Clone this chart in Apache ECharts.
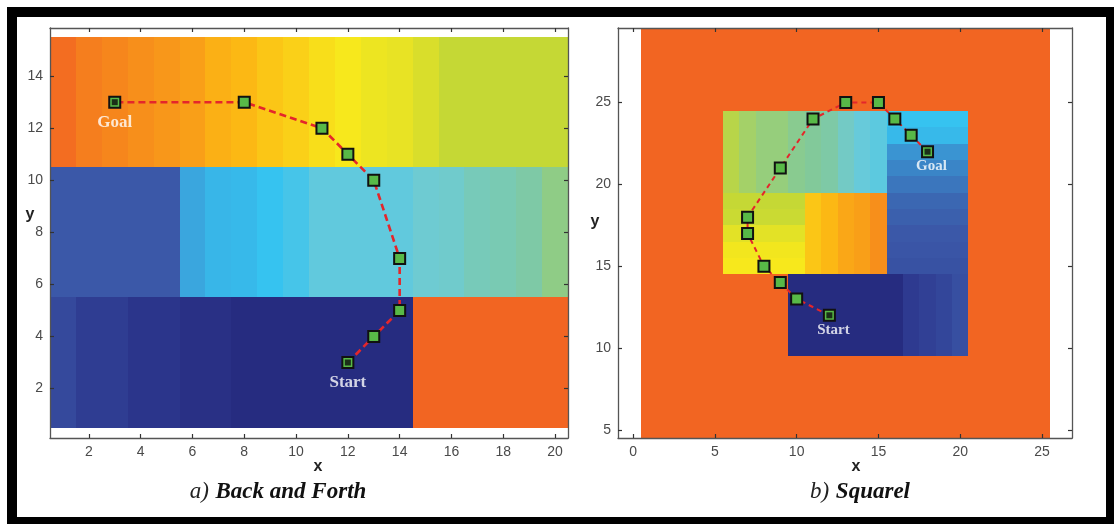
<!DOCTYPE html>
<html>
<head>
<meta charset="utf-8">
<script src="https://cdn.jsdelivr.net/npm/echarts@6/dist/echarts.min.js"></script>
<style>
html,body{margin:0;padding:0;background:#ffffff;}
#chart{width:1115px;height:524px;}
</style>
</head>
<body>
<div id="chart"></div>
<script>
// ---------- Panel a) Back and Forth : 20 columns x 15 rows ----------
const aBandTop = [99,97,96,95,94,93,91,90,87,85,82,80,78,77,74,70,70,70,70,70]; // rows 11-15, x = 1..20
const aBandMid = [20,20,20,20,20,31,36,37,40,43,48,48,48,48,51,52,55,56,58,62]; // rows 6-10
const aBandLow = [15,11,11,7,7,4,4,1,1,1,1,1,1,1,100,100,100,100,100,100];     // rows 1-5
const aPathX = [12,13,14,14,13,12,11,8,3];
const aPathY = [3,4,5,7,10,11,12,13,13];
const aEndNames = ['Goal','Start'];
const aEndX = [3,12];
const aEndY = [13,3];
const aXTicks = [2,4,6,8,10,12,14,16,18,20];
const aYTicks = [2,4,6,8,10,12,14];

// ---------- Panel b) Squarel : 25 columns (x 1..25) x 25 rows (y 5..29) ----------
const bObstacle = 100;
const bTopBlockCols = [68,65,63,63,61,60,58,53,49,47];   // x 6..15, rows 20..24
const bBlueColRows = [18,19,20,21,22,24,26,28,37,40];    // y 15..24, x 16..20
const bYellowRows = [80,79,76,71,70];                    // y 15..19, x 6..10
const bOrangeCols = [87,90,92,93,95];                    // x 11..15, y 15..19
const bNavyCols = [1,1,1,1,1,1,1,10,12,14,17];           // x 10..20, y 10..14
const bPathX = [12,10,9,8,7,7,9,11,13,15,16,17,18];
const bPathY = [12,13,14,15,17,18,21,24,25,25,24,23,22];
const bEndNames = ['Goal','Start'];
const bEndX = [18,12];
const bEndY = [22,12];
const bXTicks = [0,5,10,15,20,25];
const bYTicks = [5,10,15,20,25];

// ---------- build cell tables ----------
const aCells = [];
for (let y = 1; y <= 15; y++) {
  for (let x = 1; x <= 20; x++) {
    const band = y >= 11 ? aBandTop : (y >= 6 ? aBandMid : aBandLow);
    aCells.push([x, y, band[x - 1]]);
  }
}
const bCells = [];
for (let y = 5; y <= 29; y++) {
  for (let x = 1; x <= 25; x++) {
    let v = bObstacle;
    if (y >= 20 && y <= 24 && x >= 6 && x <= 15) v = bTopBlockCols[x - 6];
    else if (y >= 15 && y <= 24 && x >= 16 && x <= 20) v = bBlueColRows[y - 15];
    else if (y >= 15 && y <= 19 && x >= 6 && x <= 10) v = bYellowRows[y - 15];
    else if (y >= 15 && y <= 19 && x >= 11 && x <= 15) v = bOrangeCols[x - 11];
    else if (y >= 10 && y <= 14 && x >= 10 && x <= 20) v = bNavyCols[x - 10];
    bCells.push([x, y, v]);
  }
}
const zipXY = (xs, ys) => xs.map((x, i) => [x, ys[i]]);
const ends = (names, xs, ys) => names.map((n, i) => ({ name: n, value: [xs[i], ys[i]] }));

function renderCell(params, api) {
  const x = api.value(0), y = api.value(1);
  const p0 = api.coord([x - 0.5, y + 0.5]);
  const p1 = api.coord([x + 0.5, y - 0.5]);
  const x0 = Math.round(p0[0]), y0 = Math.round(p0[1]);
  const x1 = Math.round(p1[0]), y1 = Math.round(p1[1]);
  const c = api.visual('color');
  return {
    type: 'rect',
    shape: { x: x0, y: y0, width: x1 - x0, height: y1 - y0 },
    style: { fill: c, stroke: null, lineWidth: 0 }
  };
}

const tickFont = { color: '#4a4a4a', fontSize: 14, fontFamily: 'Liberation Sans' };
function mkAxis(gridIndex, position, min, max, ticks, showLabel) {
  return {
    type: 'value', gridIndex: gridIndex, position: position, min: min, max: max, z: 10,
    axisLine: { show: true, onZero: false, lineStyle: { color: '#555', width: 1.3 } },
    axisTick: { show: true, inside: true, length: 4, customValues: ticks, lineStyle: { color: '#333', width: 1.2 } },
    axisLabel: { show: showLabel, customValues: ticks, margin: 7, ...tickFont },
    splitLine: { show: false }
  };
}

const lineCommon = (gi) => ({
  type: 'line', xAxisIndex: gi * 2, yAxisIndex: gi * 2, z: 5,
  symbol: 'rect', symbolSize: 11, showSymbol: true,
  itemStyle: { color: '#58b947', borderColor: '#111', borderWidth: 2 },
  lineStyle: { color: '#e4262b', width: gi === 0 ? 2.6 : 2, type: gi === 0 ? [7, 4] : [5, 4] },
  emphasis: { disabled: true }, silent: true
});
const endCommon = (gi, fs, dist, offset) => ({
  type: 'scatter', xAxisIndex: gi * 2, yAxisIndex: gi * 2, z: 6,
  symbol: 'rect', symbolSize: 6, itemStyle: { color: '#0d0d0d' },
  label: { show: true, position: 'bottom', distance: dist, offset: offset, formatter: '{b}',
           color: '#ffffff', fontFamily: 'Liberation Serif', fontWeight: 'bold', fontSize: fs },
  silent: true
});

const chart = echarts.init(document.getElementById('chart'), null, { renderer: 'canvas' });
chart.setOption({
  animation: false,
  backgroundColor: '#ffffff',
  grid: [
    { left: 50, top: 28, width: 518, height: 410 },
    { left: 618, top: 28, width: 454, height: 410 }
  ],
  xAxis: [
    mkAxis(0, 'bottom', 0.5, 20.5, aXTicks, true),
    mkAxis(0, 'top', 0.5, 20.5, aXTicks, false),
    mkAxis(1, 'bottom', -0.92, 26.83, bXTicks, true),
    mkAxis(1, 'top', -0.92, 26.83, bXTicks, false)
  ],
  yAxis: [
    mkAxis(0, 'left', 0.1, 15.85, aYTicks, true),
    mkAxis(0, 'right', 0.1, 15.85, aYTicks, false),
    mkAxis(1, 'left', 4.5, 29.56, bYTicks, true),
    mkAxis(1, 'right', 4.5, 29.56, bYTicks, false)
  ],
  visualMap: {
    type: 'continuous', show: false, seriesIndex: [0, 3], dimension: 2, min: 0, max: 100,
    inRange: { color: ['#252a7e','#2e3a90','#3b58a8','#3aa3dc','#36c3f0','#6ccbd8','#82c99a','#c5d835','#f7e81c','#fcb814','#f26522'] }
  },
  series: [
    { type: 'custom', xAxisIndex: 0, yAxisIndex: 0, renderItem: renderCell, data: aCells, z: 1, silent: true },
    Object.assign(lineCommon(0), { data: zipXY(aPathX, aPathY) }),
    Object.assign(endCommon(0, 17, 9, [0, 0]), { data: ends(aEndNames, aEndX, aEndY) }),
    { type: 'custom', xAxisIndex: 2, yAxisIndex: 2, renderItem: renderCell, data: bCells, z: 1, silent: true },
    Object.assign(lineCommon(1), { data: zipXY(bPathX, bPathY) }),
    Object.assign(endCommon(1, 15, 6, [4, -2]), { data: ends(bEndNames, bEndX, bEndY) })
  ],
  graphic: [
    { type: 'rect', shape: { x: 7, y: 7, width: 1107, height: 10 }, style: { fill: '#000' } },
    { type: 'rect', shape: { x: 7, y: 7, width: 10, height: 517 }, style: { fill: '#000' } },
    { type: 'rect', shape: { x: 1106, y: 7, width: 8, height: 517 }, style: { fill: '#000' } },
    { type: 'rect', shape: { x: 7, y: 517, width: 1107, height: 7 }, style: { fill: '#000' } },
    { type: 'text', x: 318, y: 467, style: { text: 'x', fill: '#222', font: 'bold 16px "Liberation Sans"', align: 'center', verticalAlign: 'middle' } },
    { type: 'text', x: 30, y: 215, style: { text: 'y', fill: '#222', font: 'bold 16px "Liberation Sans"', align: 'center', verticalAlign: 'middle' } },
    { type: 'text', x: 856, y: 467, style: { text: 'x', fill: '#222', font: 'bold 16px "Liberation Sans"', align: 'center', verticalAlign: 'middle' } },
    { type: 'text', x: 595, y: 222, style: { text: 'y', fill: '#222', font: 'bold 16px "Liberation Sans"', align: 'center', verticalAlign: 'middle' } },
    { type: 'text', x: 278, y: 492, style: {
        text: '{p|a)}  {t|Back and Forth}', align: 'center', verticalAlign: 'middle',
        rich: { p: { font: 'italic 23px "Liberation Serif"', fill: '#222' }, t: { font: 'italic bold 23px "Liberation Serif"', fill: '#111' } } } },
    { type: 'text', x: 860, y: 492, style: {
        text: '{p|b)}  {t|Squarel}', align: 'center', verticalAlign: 'middle',
        rich: { p: { font: 'italic 23px "Liberation Serif"', fill: '#222' }, t: { font: 'italic bold 23px "Liberation Serif"', fill: '#111' } } } }
  ]
});
</script>
</body>
</html>
